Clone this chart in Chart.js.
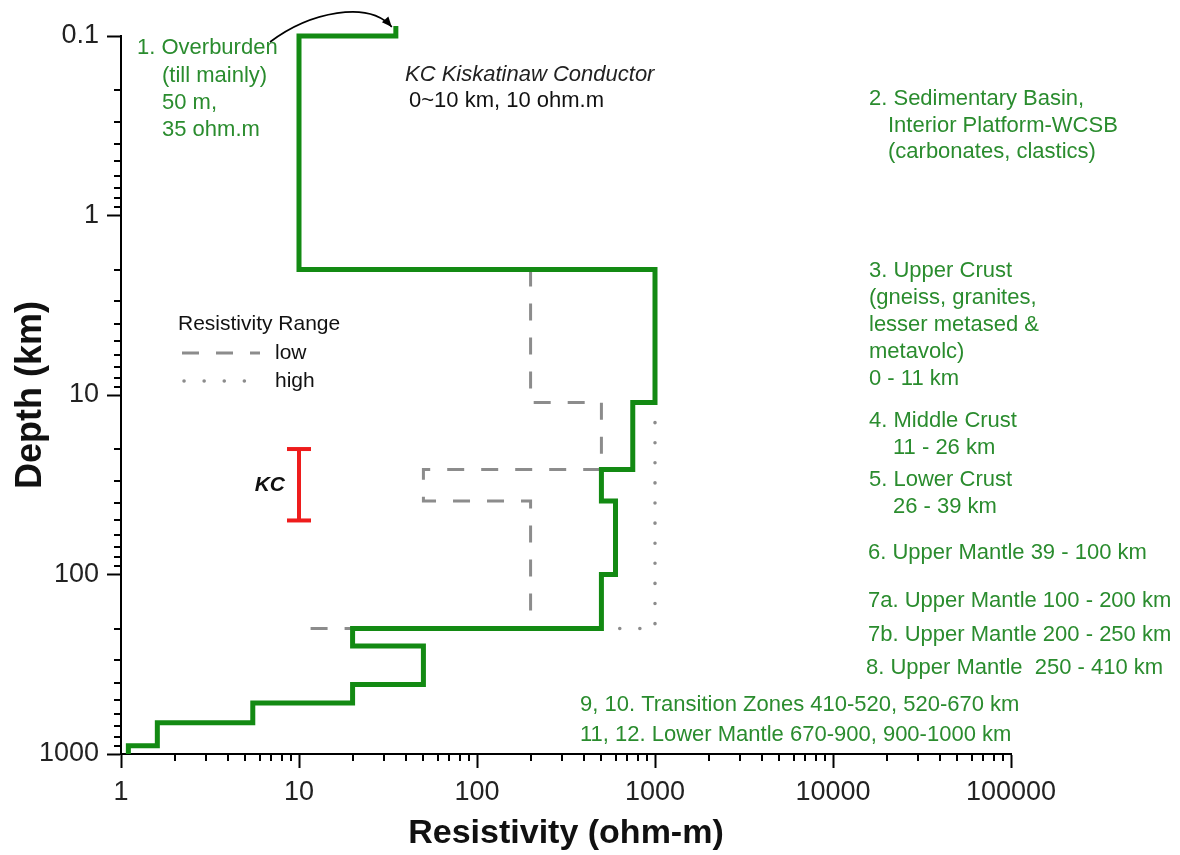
<!DOCTYPE html>
<html>
<head>
<meta charset="utf-8">
<title>Resistivity vs Depth</title>
<script src="https://cdn.jsdelivr.net/npm/chart.js@4.4.1/dist/chart.umd.min.js"></script>
<style>
  html, body { margin: 0; padding: 0; background: #fff; }
  #wrap { width: 1180px; height: 855px; position: relative; }
</style>
</head>
<body>
<div id="wrap"><canvas id="chart" width="1180" height="855"></canvas></div>
<script>
// ---- Layered resistivity model (depth in km, resistivity in ohm-m) ----
const layerTop    = [0.05, 0.1, 2, 11, 26, 39, 100, 200, 250, 410, 520, 670, 900];
const layerBottom = [0.1, 2, 11, 26, 39, 100, 200, 250, 410, 520, 670, 900, 1000];
const layerRho    = [35, 10, 1000, 750, 500, 600, 500, 20, 50, 20, 5.5, 1.6, 1.1];

// Resistivity range bounds
const lowTop    = [2, 11, 26, 39, 200];
const lowBottom = [11, 26, 39, 200, 200];
const lowRho    = [200, 500, 50, 200, 10];

const highTop    = [11, 200];
const highBottom = [200, 200];
const highRho    = [1000, 20];

// Kiskatinaw Conductor depth range
const kcRho   = 10;
const kcDepth = [20, 50];

// Axis ticks
const xDecades    = [1, 10, 100, 1000, 10000, 100000];
const xTickLabels = ['1', '10', '100', '1000', '10000', '100000'];
const yDecades    = [0.1, 1, 10, 100, 1000];
const yTickLabels = ['0.1', '1', '10', '100', '1000'];

// Turn layer tables into step-shaped profiles
function stepProfile(tops, bottoms, rho) {
  const pts = [];
  for (let i = 0; i < rho.length; i++) {
    pts.push({ x: rho[i], y: tops[i] });
    pts.push({ x: rho[i], y: bottoms[i] });
  }
  return pts;
}

function logTicks(decades) {
  const ticks = [];
  decades.forEach((d, i) => {
    const last = i === decades.length - 1;
    for (let k = 1; k <= (last ? 1 : 9); k++) {
      ticks.push({ value: d * k, major: k === 1 });
    }
  });
  return ticks;
}

function decadeLabel(decades, labels, v) {
  for (let i = 0; i < decades.length; i++) {
    if (Math.abs(v - decades[i]) < decades[i] * 1e-9) return labels[i];
  }
  return '';
}

const FONT = "'Liberation Sans', Arial, sans-serif";
const GREEN_LINE = '#138a13';
const GREEN_TEXT = '#2a8c2e';
const GRAY = '#8c8c8c';

// Short minor tick marks drawn on the outside of each axis
const minorTicks = {
  id: 'minorTicks',
  afterDraw(chart) {
    const ctx = chart.ctx;
    ctx.save();
    ctx.strokeStyle = '#000';
    ctx.lineWidth = 2;
    const xs = chart.scales.x, ys = chart.scales.y;
    xs.ticks.forEach(t => {
      if (t.major) return;
      const p = Math.round(xs.getPixelForValue(t.value));
      ctx.beginPath(); ctx.moveTo(p, xs.top); ctx.lineTo(p, xs.top + 7); ctx.stroke();
    });
    ys.ticks.forEach(t => {
      if (t.major) return;
      const p = Math.round(ys.getPixelForValue(t.value));
      ctx.beginPath(); ctx.moveTo(ys.right, p); ctx.lineTo(ys.right - 7, p); ctx.stroke();
    });
    ctx.restore();
  }
};

// Text notes, legend and the overburden arrow
const notes = [
  { t: '1. Overburden', x: 137, y: 48, c: GREEN_TEXT },
  { t: '(till mainly)', x: 162, y: 76, c: GREEN_TEXT },
  { t: '50 m,', x: 162, y: 103, c: GREEN_TEXT },
  { t: '35 ohm.m', x: 162, y: 130, c: GREEN_TEXT },
  { t: 'KC Kiskatinaw Conductor', x: 405, y: 75, c: '#222', s: 'italic' },
  { t: '0~10 km, 10 ohm.m', x: 409, y: 101, c: '#111' },
  { t: '2. Sedimentary Basin,', x: 869, y: 99, c: GREEN_TEXT },
  { t: 'Interior Platform-WCSB', x: 888, y: 126, c: GREEN_TEXT },
  { t: '(carbonates, clastics)', x: 888, y: 152, c: GREEN_TEXT },
  { t: '3. Upper Crust', x: 869, y: 271, c: GREEN_TEXT },
  { t: '(gneiss, granites,', x: 869, y: 298, c: GREEN_TEXT },
  { t: 'lesser metased &', x: 869, y: 325, c: GREEN_TEXT },
  { t: 'metavolc)', x: 869, y: 352, c: GREEN_TEXT },
  { t: '0 - 11 km', x: 869, y: 379, c: GREEN_TEXT },
  { t: '4. Middle Crust', x: 869, y: 421, c: GREEN_TEXT },
  { t: '11 - 26 km', x: 893, y: 448, c: GREEN_TEXT },
  { t: '5. Lower Crust', x: 869, y: 480, c: GREEN_TEXT },
  { t: '26 - 39 km', x: 893, y: 507, c: GREEN_TEXT },
  { t: '6. Upper Mantle 39 - 100 km', x: 868, y: 553, c: GREEN_TEXT },
  { t: '7a. Upper Mantle 100 - 200 km', x: 868, y: 601, c: GREEN_TEXT },
  { t: '7b. Upper Mantle 200 - 250 km', x: 868, y: 635, c: GREEN_TEXT },
  { t: '8. Upper Mantle  250 - 410 km', x: 866, y: 668, c: GREEN_TEXT },
  { t: '9, 10. Transition Zones 410-520, 520-670 km', x: 580, y: 705, c: GREEN_TEXT },
  { t: '11, 12. Lower Mantle 670-900, 900-1000 km', x: 580, y: 735, c: GREEN_TEXT },
  { t: 'Resistivity Range', x: 178, y: 324, c: '#111', z: 21 },
  { t: 'low', x: 275, y: 353, c: '#111', z: 21 },
  { t: 'high', x: 275, y: 381, c: '#111', z: 21 }
];

const annotations = {
  id: 'annotations',
  afterDraw(chart) {
    const ctx = chart.ctx;
    ctx.save();
    ctx.textBaseline = 'middle';
    ctx.textAlign = 'left';
    notes.forEach(n => {
      ctx.font = (n.s ? n.s + ' ' : '') + (n.z || 22) + 'px ' + FONT;
      ctx.fillStyle = n.c;
      ctx.fillText(n.t, n.x, n.y);
    });
    // KC label beside the conductor bar
    ctx.font = 'italic bold 21px ' + FONT;
    ctx.fillStyle = '#111';
    ctx.textAlign = 'right';
    ctx.fillText('KC', 285, 485);

    // legend line samples
    ctx.strokeStyle = GRAY;
    ctx.lineWidth = 3;
    ctx.setLineDash([17, 17]);
    ctx.beginPath(); ctx.moveTo(182, 353); ctx.lineTo(260, 353); ctx.stroke();
    ctx.lineCap = 'round';
    ctx.setLineDash([0.1, 20]);
    ctx.lineWidth = 3.5;
    ctx.beginPath(); ctx.moveTo(184, 381); ctx.lineTo(260, 381); ctx.stroke();
    ctx.setLineDash([]);
    ctx.lineCap = 'butt';

    // curved arrow pointing at the overburden step
    const xs = chart.scales.x;
    const ex = xs.getPixelForValue(layerRho[0]) - 4, ey = 27;
    const sx = 270, sy = 42, c1x = 310, c1y = 12, c2x = 368, c2y = 0;
    ctx.strokeStyle = '#000';
    ctx.lineWidth = 1.6;
    ctx.beginPath();
    ctx.moveTo(sx, sy);
    ctx.bezierCurveTo(c1x, c1y, c2x, c2y, ex, ey);
    ctx.stroke();
    const ang = Math.atan2(ey - c2y, ex - c2x);
    const hl = 11, hw = 0.4;
    ctx.fillStyle = '#000';
    ctx.beginPath();
    ctx.moveTo(ex, ey);
    ctx.lineTo(ex - hl * Math.cos(ang - hw), ey - hl * Math.sin(ang - hw));
    ctx.lineTo(ex - hl * Math.cos(ang + hw), ey - hl * Math.sin(ang + hw));
    ctx.closePath();
    ctx.fill();
    ctx.restore();
  }
};

const ctx = document.getElementById('chart').getContext('2d');
new Chart(ctx, {
  type: 'scatter',
  data: {
    datasets: [
      {
        label: 'Model',
        data: stepProfile(layerTop, layerBottom, layerRho),
        showLine: true,
        borderColor: GREEN_LINE,
        borderWidth: 5,
        borderJoinStyle: 'miter',
        pointRadius: 0,
        clip: { left: 5, top: 10, right: 5, bottom: 3 }
      },
      {
        label: 'KC',
        data: kcDepth.map(d => ({ x: kcRho, y: d })),
        showLine: true,
        borderColor: '#ee1c1c',
        borderWidth: 4,
        pointStyle: 'line',
        pointRadius: 12,
        pointBorderWidth: 4,
        pointBorderColor: '#ee1c1c',
        pointBackgroundColor: '#ee1c1c'
      },
      {
        label: 'low',
        data: stepProfile(lowTop, lowBottom, lowRho),
        showLine: true,
        borderColor: GRAY,
        borderWidth: 3,
        borderDash: [17, 17],
        pointRadius: 0
      },
      {
        label: 'high',
        data: stepProfile(highTop, highBottom, highRho),
        showLine: true,
        borderColor: GRAY,
        borderWidth: 3.5,
        borderDash: [0.1, 20],
        borderCapStyle: 'round',
        pointRadius: 0
      }
    ]
  },
  options: {
    responsive: false,
    animation: false,
    events: [],
    layout: { padding: { top: 36, right: 169, bottom: 0, left: 0 } },
    plugins: { legend: { display: false }, tooltip: { enabled: false } },
    scales: {
      x: {
        type: 'logarithmic',
        position: 'bottom',
        min: 1,
        max: 100000,
        afterBuildTicks: s => { s.ticks = logTicks(xDecades); },
        afterFit: s => { s.height = 101; },
        ticks: {
          autoSkip: false,
          maxRotation: 0,
          padding: 8,
          color: '#222',
          font: { family: FONT, size: 27 },
          callback: v => decadeLabel(xDecades, xTickLabels, v)
        },
        grid: {
          drawOnChartArea: false,
          drawTicks: true,
          tickLength: 14,
          tickWidth: 2,
          tickColor: c => (c.tick && c.tick.major ? '#000' : 'rgba(0,0,0,0)')
        },
        border: { display: true, color: '#000', width: 2 },
        title: {
          display: true,
          text: 'Resistivity (ohm-m)',
          color: '#111',
          font: { family: FONT, size: 34, weight: 'bold' },
          padding: { top: 0, bottom: 1 }
        }
      },
      y: {
        type: 'logarithmic',
        position: 'left',
        reverse: true,
        min: 0.1,
        max: 1000,
        afterBuildTicks: s => { s.ticks = logTicks(yDecades); },
        afterFit: s => { s.width = 121; },
        ticks: {
          autoSkip: false,
          padding: 8,
          color: '#222',
          font: { family: FONT, size: 27 },
          callback: v => decadeLabel(yDecades, yTickLabels, v)
        },
        grid: {
          drawOnChartArea: false,
          drawTicks: true,
          tickLength: 14,
          tickWidth: 2,
          tickColor: c => (c.tick && c.tick.major ? '#000' : 'rgba(0,0,0,0)')
        },
        border: { display: true, color: '#000', width: 2 },
        title: {
          display: true,
          text: 'Depth (km)',
          color: '#111',
          font: { family: FONT, size: 36, weight: 'bold' },
          padding: { top: 9, bottom: 0 }
        }
      }
    }
  },
  plugins: [minorTicks, annotations]
});
</script>
</body>
</html>
